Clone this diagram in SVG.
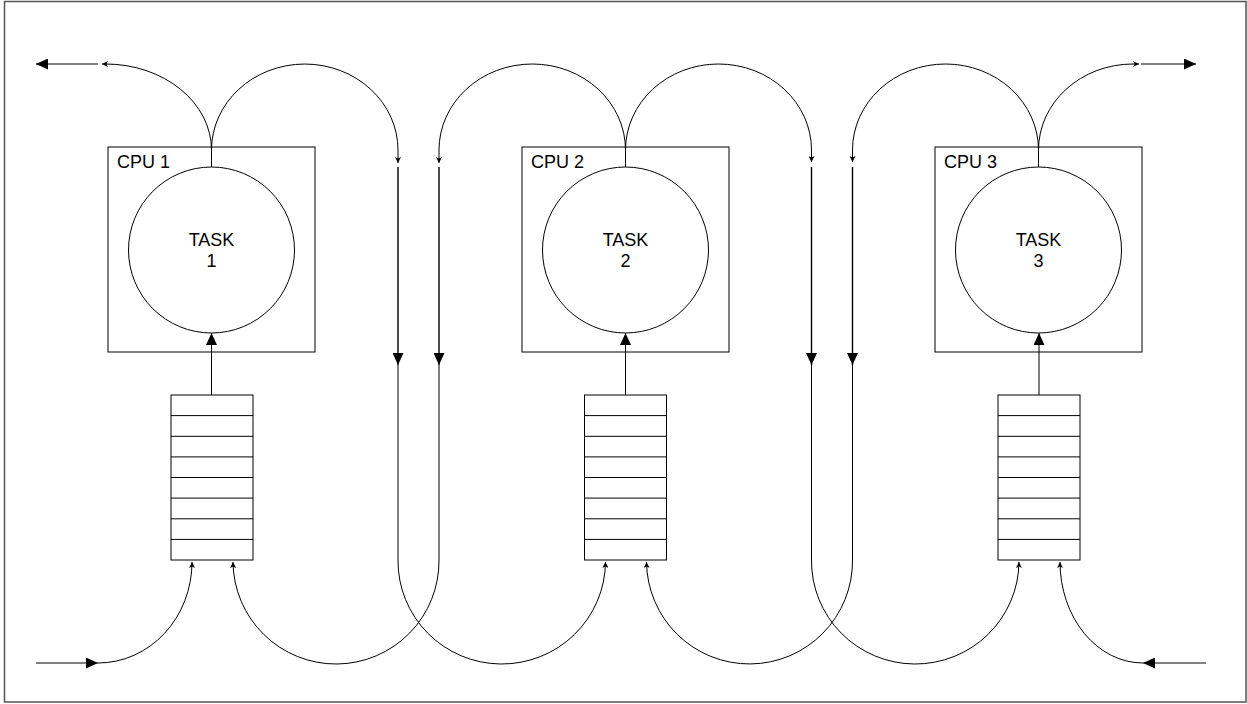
<svg xmlns="http://www.w3.org/2000/svg" width="1247" height="704" viewBox="0 0 1247 704">
  <style>
    .frame { fill: none; stroke: #555; stroke-width: 1.5; }
    .box { fill: #fff; stroke: #000; stroke-width: 1; }
    .task { fill: #fff; stroke: #000; stroke-width: 1; }
    .cell { fill: #fff; stroke: #000; stroke-width: 1; }
    .label { font-family: "Liberation Sans", Arial, sans-serif; font-size: 18px; fill: #000; }
    .mid { text-anchor: middle; }
    .wire { fill: none; stroke: #000; stroke-width: 1; }
    .bus { fill: none; stroke: #000; stroke-width: 1.4; }
    .big { marker-end: url(#head); }
    .small { marker-end: url(#tick); }
  </style>
  <defs>
    <marker id="head" viewBox="0 0 12 11" refX="12" refY="5.5" markerWidth="12" markerHeight="11" markerUnits="userSpaceOnUse" orient="auto">
      <path d="M0 0 L12 5.5 L0 11 z" fill="#000"/>
    </marker>
    <marker id="tick" viewBox="0 0 6 6" refX="6" refY="3" markerWidth="6" markerHeight="6" markerUnits="userSpaceOnUse" orient="auto">
      <path d="M0 0 L6 3 L0 6 L1.6 3 z" fill="#000"/>
    </marker>
  </defs>

  <rect class="frame" x="4.5" y="1.5" width="1241.5" height="700.5"/>

  <!-- processors -->
  <g id="cpu1">
    <rect class="box" x="108" y="147" width="207" height="205"/>
    <text class="label" x="117" y="168">CPU 1</text>
    <circle class="task" cx="211.5" cy="250" r="83"/>
    <text class="label mid" x="211.5" y="246">TASK</text>
    <text class="label mid" x="211.5" y="267">1</text>
  </g>
  <g id="cpu2">
    <rect class="box" x="522" y="147" width="207" height="205"/>
    <text class="label" x="531" y="168">CPU 2</text>
    <circle class="task" cx="625.5" cy="250" r="83"/>
    <text class="label mid" x="625.5" y="246">TASK</text>
    <text class="label mid" x="625.5" y="267">2</text>
  </g>
  <g id="cpu3">
    <rect class="box" x="935" y="147" width="207" height="205"/>
    <text class="label" x="944" y="168">CPU 3</text>
    <circle class="task" cx="1038.5" cy="250" r="83"/>
    <text class="label mid" x="1038.5" y="246">TASK</text>
    <text class="label mid" x="1038.5" y="267">3</text>
  </g>

  <!-- input queues, eight slots each -->
  <g id="queue1">
    <rect class="cell" x="171" y="395" width="82" height="165"/>
    <path class="wire" d="M171 415.6H253M171 436.3H253M171 456.9H253M171 477.5H253M171 498.1H253M171 518.8H253M171 539.4H253"/>
  </g>
  <g id="queue2">
    <rect class="cell" x="584.5" y="395" width="82" height="165"/>
    <path class="wire" d="M584.5 415.6H666.5M584.5 436.3H666.5M584.5 456.9H666.5M584.5 477.5H666.5M584.5 498.1H666.5M584.5 518.8H666.5M584.5 539.4H666.5"/>
  </g>
  <g id="queue3">
    <rect class="cell" x="998" y="395" width="82" height="165"/>
    <path class="wire" d="M998 415.6H1080M998 436.3H1080M998 456.9H1080M998 477.5H1080M998 498.1H1080M998 518.8H1080M998 539.4H1080"/>
  </g>

  <g id="connectors">
    <!-- queue to task -->
    <path class="wire big" d="M211.5 395V333"/>
    <path class="wire big" d="M625.5 395V333"/>
    <path class="wire big" d="M1039 395V333"/>

    <!-- task outputs over the top -->
    <path class="wire" d="M211.5 167V150"/>
    <path class="wire" d="M625.5 167V150"/>
    <path class="wire" d="M1038.5 167V150"/>
    <path class="wire small" d="M211.5 150A106 86 0 0 0 105.5 64H102"/>
    <path class="wire big" d="M98 64H36"/>
    <path class="wire small" d="M211.5 150A93.25 86 0 0 1 398 150V163"/>
    <path class="wire small" d="M625.5 150A93.25 86 0 0 0 439 150V163"/>
    <path class="wire small" d="M625.5 150A93 86 0 0 1 811.5 150V162"/>
    <path class="wire small" d="M1038.5 150A93 86 0 0 0 852.5 150V162"/>
    <path class="wire small" d="M1038.5 150A94.5 86 0 0 1 1133 64H1139"/>
    <path class="wire big" d="M1141 64H1196"/>

    <!-- vertical buses -->
    <path class="bus big" d="M398 167V365"/>
    <path class="bus big" d="M439 167V365"/>
    <path class="bus big" d="M811.5 167V365"/>
    <path class="bus big" d="M852.5 167V365"/>

    <!-- returns into the queues -->
    <path class="wire small" d="M439 365V560A103 103 0 0 1 233 562"/>
    <path class="wire small" d="M398 365V560A103.75 103 0 0 0 605.5 562"/>
    <path class="wire small" d="M852.5 365V560A103 103 0 0 1 646.5 562"/>
    <path class="wire small" d="M811.5 365V560A103.75 103 0 0 0 1019 562"/>

    <!-- external inputs -->
    <path class="wire big" d="M36 663H98"/>
    <path class="wire small" d="M98 663A94 101 0 0 0 192 562"/>
    <path class="wire big" d="M1206 663H1143"/>
    <path class="wire small" d="M1143 663A83 101 0 0 1 1060 562"/>
  </g>
</svg>
